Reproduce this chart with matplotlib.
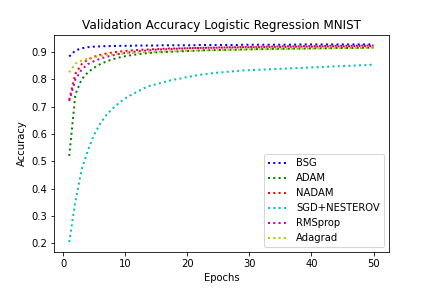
import matplotlib
matplotlib.use("Agg")
import matplotlib.pyplot as plt

epochs = list(range(1, 51))

bsg = [0.883, 0.905, 0.913, 0.917, 0.919, 0.920, 0.921, 0.921, 0.922, 0.922,
       0.922, 0.923, 0.923, 0.923, 0.923, 0.924, 0.924, 0.924, 0.924, 0.924,
       0.924, 0.925, 0.925, 0.925, 0.925, 0.925, 0.925, 0.925, 0.926, 0.926,
       0.926, 0.926, 0.926, 0.926, 0.926, 0.926, 0.926, 0.927, 0.927, 0.927,
       0.927, 0.927, 0.927, 0.927, 0.927, 0.927, 0.927, 0.927, 0.927, 0.927]

adam = [0.520, 0.745, 0.800, 0.825, 0.842, 0.855, 0.865, 0.873, 0.879, 0.884,
        0.888, 0.891, 0.894, 0.896, 0.898, 0.899, 0.900, 0.901, 0.902, 0.903,
        0.904, 0.905, 0.906, 0.906, 0.907, 0.907, 0.908, 0.908, 0.909, 0.909,
        0.910, 0.910, 0.910, 0.911, 0.911, 0.911, 0.912, 0.912, 0.912, 0.913,
        0.913, 0.913, 0.913, 0.914, 0.914, 0.914, 0.914, 0.915, 0.915, 0.915]

nadam = [0.725, 0.820, 0.855, 0.872, 0.882, 0.889, 0.894, 0.898, 0.901, 0.903,
         0.905, 0.907, 0.908, 0.909, 0.910, 0.911, 0.912, 0.912, 0.913, 0.913,
         0.914, 0.914, 0.915, 0.915, 0.915, 0.916, 0.916, 0.916, 0.917, 0.917,
         0.917, 0.917, 0.918, 0.918, 0.918, 0.918, 0.919, 0.919, 0.919, 0.919,
         0.919, 0.920, 0.920, 0.920, 0.920, 0.920, 0.921, 0.921, 0.921, 0.921]

sgd_nesterov = [0.205, 0.355, 0.470, 0.540, 0.597, 0.638, 0.670, 0.693, 0.713, 0.730,
                0.743, 0.755, 0.767, 0.776, 0.782, 0.788, 0.794, 0.799, 0.803, 0.808,
                0.812, 0.816, 0.819, 0.822, 0.824, 0.826, 0.828, 0.830, 0.832, 0.833,
                0.834, 0.835, 0.836, 0.837, 0.838, 0.839, 0.840, 0.841, 0.842, 0.843,
                0.844, 0.845, 0.846, 0.847, 0.848, 0.849, 0.850, 0.851, 0.852, 0.853]

rmsprop = [0.720, 0.800, 0.835, 0.855, 0.866, 0.875, 0.882, 0.887, 0.892, 0.896,
           0.899, 0.902, 0.904, 0.906, 0.908, 0.909, 0.910, 0.911, 0.912, 0.913,
           0.914, 0.914, 0.915, 0.915, 0.916, 0.916, 0.917, 0.917, 0.918, 0.918,
           0.918, 0.919, 0.919, 0.919, 0.920, 0.920, 0.920, 0.920, 0.921, 0.921,
           0.921, 0.921, 0.922, 0.922, 0.922, 0.922, 0.922, 0.923, 0.923, 0.923]

adagrad = [0.825, 0.857, 0.868, 0.875, 0.881, 0.885, 0.888, 0.891, 0.893, 0.895,
           0.896, 0.897, 0.898, 0.899, 0.900, 0.901, 0.902, 0.902, 0.903, 0.904,
           0.904, 0.905, 0.905, 0.906, 0.906, 0.907, 0.907, 0.908, 0.908, 0.909,
           0.909, 0.909, 0.910, 0.910, 0.910, 0.911, 0.911, 0.911, 0.912, 0.912,
           0.912, 0.913, 0.913, 0.913, 0.914, 0.914, 0.914, 0.914, 0.915, 0.915]

fig = plt.figure(figsize=(6, 4), dpi=72)
plt.subplots_adjust(bottom=0.125)
plt.plot(epochs, bsg, 'b:', label='BSG', linewidth=2)
plt.plot(epochs, adam, 'g:', label='ADAM', linewidth=2)
plt.plot(epochs, nadam, 'r:', label='NADAM', linewidth=2)
plt.plot(epochs, sgd_nesterov, 'c:', label='SGD+NESTEROV', linewidth=2)
plt.plot(epochs, rmsprop, 'm:', label='RMSprop', linewidth=2)
plt.plot(epochs, adagrad, 'y:', label='Adagrad', linewidth=2)
plt.title('Validation Accuracy Logistic Regression MNIST')
plt.xlabel('Epochs')
plt.ylabel('Accuracy')
plt.legend(loc='lower right')
plt.savefig('out.png', dpi=72)
